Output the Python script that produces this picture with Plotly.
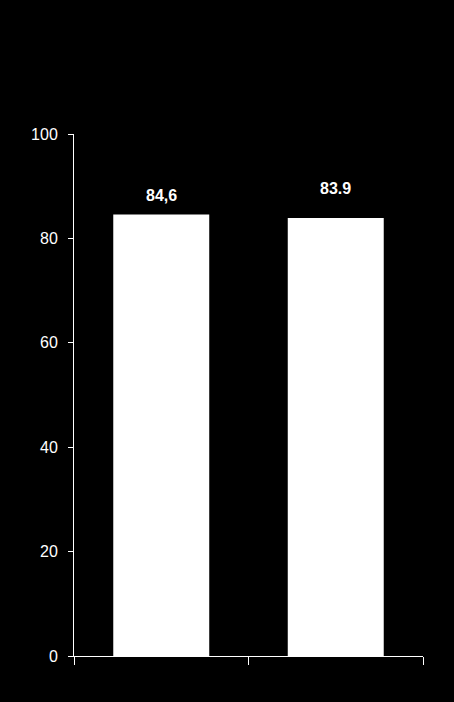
import plotly.graph_objects as go

categories = ["Group 1", "Group 2"]
values = [84.6, 83.9]
value_labels = ["84,6", "83.9"]
y_ticks = [0, 20, 40, 60, 80, 100]

# the two labels do not sit at the same height in the original
label_shift = [8, 19]

fig = go.Figure(go.Bar(
    x=categories, y=values,
    marker=dict(color="white", line=dict(width=0)),
))

# value labels above the bars
for cat, val, lab, dy in zip(categories, values, value_labels, label_shift):
    fig.add_annotation(
        x=cat, y=val, text="<b>%s</b>" % lab, showarrow=False,
        yanchor="bottom", yshift=dy,
        font=dict(family="Liberation Sans, Arial", size=16, color="white"),
    )

fig.update_layout(
    width=454, height=702,
    paper_bgcolor="black", plot_bgcolor="black",
    margin=dict(l=74, r=31, t=134, b=46),
    bargap=0.45,
    showlegend=False,
    font=dict(family="Liberation Sans, Arial", size=16, color="white"),
)
fig.update_xaxes(
    showticklabels=False, showline=True, linecolor="white", linewidth=1,
    ticks="outside", tickson="boundaries", ticklen=8, tickcolor="white",
    showgrid=False, zeroline=False,
)
fig.update_yaxes(
    range=[0, 100], tickvals=y_ticks, showline=True, linecolor="white",
    linewidth=1, ticks="outside", ticklen=5, tickcolor="white",
    ticklabelstandoff=7,
    showgrid=False, zeroline=False, tickfont=dict(size=16, color="white"),
)

fig.write_html(
    "out.html",
    config={"displayModeBar": False},
    post_script="document.body.style.margin='0';document.body.style.background='black';",
)
